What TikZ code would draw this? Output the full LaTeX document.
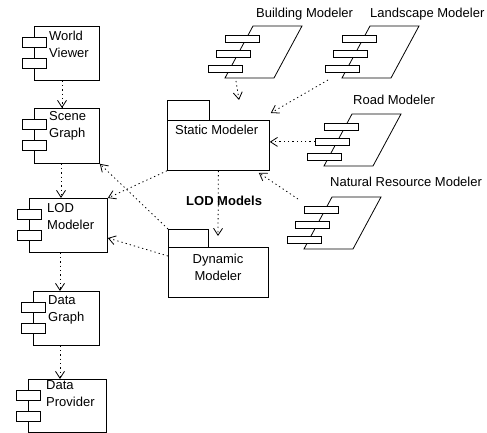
\documentclass[tikz,border=0pt]{standalone}
\usepackage{fontspec}
\setmainfont{Liberation Sans}
\usetikzlibrary{arrows.meta,calc}

\tikzset{
  box/.style={draw, line width=0.8pt, inner sep=0pt, anchor=north west},
  tabbox/.style={draw, fill=white, line width=0.8pt, inner sep=0pt, anchor=north west,
                 minimum width=24pt, minimum height=10pt},
  bar/.style={draw, fill=white, line width=0.8pt, inner sep=0pt, anchor=north west,
              minimum width=34pt, minimum height=7pt},
  txt/.style={inner sep=0pt, anchor=north west, align=left, font=\fontsize{13}{17}\selectfont},
  lbl/.style={inner sep=0pt, anchor=base west, font=\fontsize{13}{17}\selectfont},
  dep/.style={line width=0.8pt, dash pattern=on 1.3pt off 3pt,
              -{Straight Barb[length=7pt,width=9pt]}},
  outline/.style={line width=0.8pt, line join=miter},
}

% UML component: name, x, y, width, height
\newcommand\compo[5]{%
  \node[box, minimum width=#4pt, minimum height=#5pt] (#1) at (#2,#3) {};
  \node[tabbox] at ($(#1.north west)+(-12,11)$) {};
  \node[tabbox] at ($(#1.north west)+(-12,32)$) {};
}

% Slanted modeler symbol: name, x, y of its top-left corner
\newcommand\modeler[3]{%
  \draw[outline] (#2,#3) coordinate (#1-tl) -- ++(49,0) coordinate (#1-tr)
     -- ++(-28,52) coordinate (#1-br) -- ++(-49,0) coordinate (#1-bl) -- cycle;
  \node[bar] (#1-r1) at ($(#1-tl)+(-28,9)$) {};
  \node[bar] (#1-r2) at ($(#1-tl)+(-37,24)$) {};
  \node[bar] (#1-r3) at ($(#1-tl)+(-45,39)$) {};
}

\begin{document}
\begin{tikzpicture}[x=1pt,y=-1pt]
\useasboundingbox (0,0) rectangle (487,433);

% left column of components
\compo{wv}{34}{26}{65}{54}
\compo{sg}{34}{108}{65}{55}
\compo{lod}{29}{198}{78}{54}
\compo{dg}{33}{291}{66}{54}
\compo{dp}{28}{379}{78}{53}

\node[txt] at (49,30.6) {World\\Viewer};
\node[txt] at (49,111.6) {Scene\\Graph};
\node[txt] at (47,203.6) {LOD\\Modeler};
\node[txt] at (48,295.6) {Data\\Graph};
\node[txt] at (46,380.6) {Data\\Provider};

% packages
\node[box, minimum width=42pt, minimum height=20pt] (smtab) at (167,100) {};
\node[box, minimum width=102pt, minimum height=50pt] (sm) at (167,120) {};
\node[lbl] at (175,135) {Static Modeler};

\node[box, minimum width=40pt, minimum height=18pt] (dmtab) at (168,229) {};
\node[box, minimum width=100pt, minimum height=50pt] (dm) at (168,247) {};
\node[txt, anchor=north, align=center] at (218,253.6) {Dynamic\\Modeler};

% modelers
\modeler{bld}{253}{26}
\modeler{lnd}{370}{26}
\modeler{road}{352}{114}
\modeler{nat}{332}{197}

\node[lbl] at (256,18) {Building Modeler};
\node[lbl] at (370,18) {Landscape Modeler};
\node[lbl] at (353,105) {Road Modeler};
\node[lbl] at (330,186) {Natural Resource Modeler};

% dependencies
\draw[dep] ($(wv.south west)+(28,0)$) -- ($(sg.north west)+(28,0)$);
\draw[dep] ($(sg.south west)+(27,0)$) -- ($(lod.north west)+(32,0)$);
\draw[dep] ($(lod.south west)+(31,0)$) -- ($(dg.north west)+(27,0)$);
\draw[dep] ($(dg.south west)+(27,0)$) -- ($(dp.north west)+(32,0)$);

\draw[dep] (dmtab.north west) -- (sg.south east);
\draw[dep] (sm.south west) -- (lod.north east);
\draw[dep] ($(dm.north west)+(0,9)$) -- ($(lod.north east)+(0,40)$);

\coordinate (lodend) at (218,236);
\draw[dep] (sm.south) -- (lodend);
\node[lbl, font=\fontsize{13}{17}\selectfont\bfseries] at (186,205) {LOD Models};

\coordinate (bldend) at (239,100);
\draw[dep] ($(bld-bl)+(11,3)$) -- (bldend);
\draw[dep] ($(lnd-bl)+(-14,2)$) -- ($(sm.north east)+(1,-7)$);
\draw[dep] (road-r2.west) -- (road-r2.west -| sm.east);
\draw[dep] ($(nat-r1.north west)+(-6,-7)$) -- ($(sm.south east)+(-11,2)$);
\end{tikzpicture}
\end{document}
